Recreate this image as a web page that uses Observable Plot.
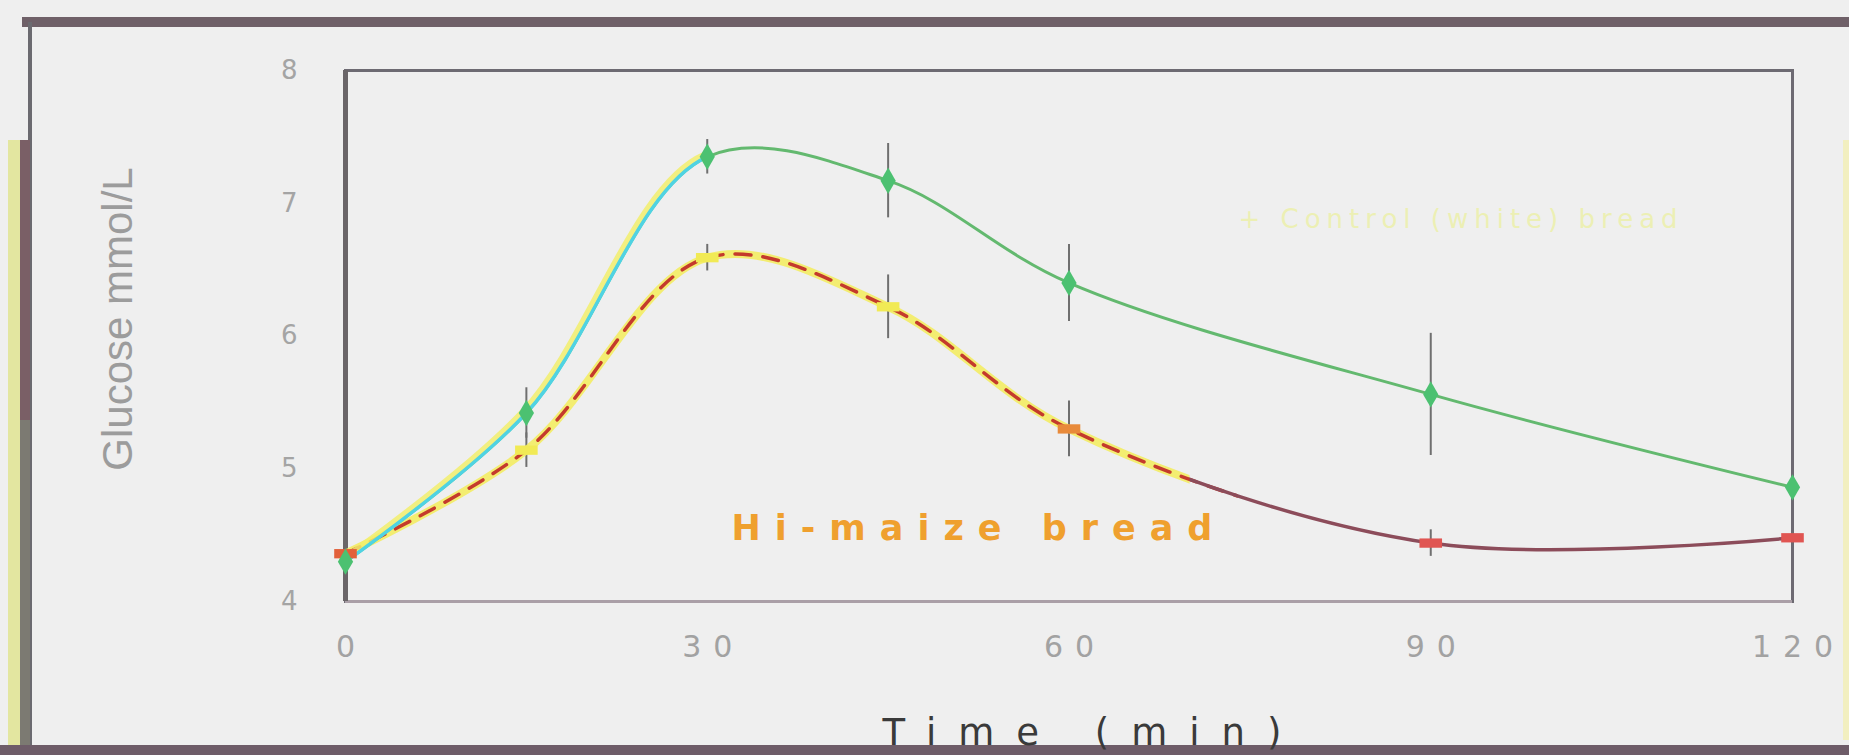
<!DOCTYPE html>
<html><head><meta charset="utf-8">
<script src="https://cdn.jsdelivr.net/npm/d3@7"></script>
<script src="https://cdn.jsdelivr.net/npm/@observablehq/plot@0.6"></script>
<style>
html,body{margin:0;padding:0;background:#efefef;overflow:hidden;}
#chart{position:relative;width:1849px;height:755px;}
</style></head><body><div id="chart"></div>
<script>
// ---- data ----
const times = [0, 15, 30, 45, 60, 90, 120];
const controlMean = [4.30, 5.42, 7.35, 7.17, 6.40, 5.56, 4.86];
const controlSE   = [0.05, 0.19, 0.13, 0.28, 0.29, 0.46, 0.00];
const hiMaizeMean = [4.36, 5.14, 6.59, 6.22, 5.30, 4.44, 4.48];
const hiMaizeSE   = [0.04, 0.13, 0.10, 0.24, 0.21, 0.10, 0.04];
const xTicks = [0, 30, 60, 90, 120];
const yTicks = [4, 5, 6, 7, 8];
const xTitle = "Time (min)";
const yTitle = "Glucose mmol/L";
const hiMaizeLabel = "Hi-maize bread";
const controlLabel = "+ Control (white) bread";

const control = times.map((t, i) => ({t, mean: controlMean[i], se: controlSE[i]}));
const hiMaize = times.map((t, i) => ({t, mean: hiMaizeMean[i], se: hiMaizeSE[i]}));

const barSymbol = {
  draw(ctx, size) {
    const s = Math.sqrt(size), w = s * 1.7, h = s * 0.7;
    ctx.moveTo(-w / 2, -h / 2); ctx.lineTo(w / 2, -h / 2);
    ctx.lineTo(w / 2, h / 2); ctx.lineTo(-w / 2, h / 2); ctx.closePath();
  }
};
const curve = "catmull-rom";

const plot = Plot.plot({
  width: 1849, height: 755,
  marginLeft: 345, marginRight: 57, marginTop: 70, marginBottom: 154,
  style: {background: "#efefef", fontFamily: "DejaVu Sans, sans-serif"},
  x: {domain: [0, 120]},
  y: {domain: [4, 8]},
  marks: [
    Plot.axisX(xTicks, {tickSize: 0, tickPadding: 34, dx: 6, fontSize: 30, color: "#a2a2a2", label: null}),
    Plot.axisY(yTicks, {tickSize: 0, tickPadding: 48, fontSize: 26, color: "#a4a4a4", label: null, tickFormat: d => String(d)}),
    Plot.frame({stroke: "#6d6a72", strokeWidth: 3}),
    Plot.ruleY([4], {stroke: "#aa9fa7", strokeWidth: 3}),
    Plot.ruleX([0], {stroke: "#6a6568", strokeWidth: 5}),
    // error bars
    Plot.ruleX(control, {x: "t", y1: d => d.mean - d.se, y2: d => d.mean + d.se, stroke: "#6f6f6f", strokeWidth: 2}),
    Plot.ruleX(hiMaize, {x: "t", y1: d => d.mean - d.se, y2: d => d.mean + d.se, stroke: "#6f6f6f", strokeWidth: 2}),
    // Hi-maize curve (0: yellow, 1: red dashed, 2: maroon)
    Plot.line(hiMaize, {x: "t", y: "mean", curve, stroke: "#f3ec5a", strokeWidth: 8, strokeOpacity: 0.85}),
    Plot.line(hiMaize, {x: "t", y: "mean", curve, stroke: "#c43a2c", strokeWidth: 3.5, strokeDasharray: "16,12"}),
    Plot.line(hiMaize, {x: "t", y: "mean", curve, stroke: "#8c4c5a", strokeWidth: 3.5}),
    // control curve (3: green, 4: yellow, 5: cyan)
    Plot.line(control, {x: "t", y: "mean", curve, stroke: "#63b96f", strokeWidth: 3}),
    Plot.line(control, {x: "t", y: "mean", curve, dx: -3, dy: -2, stroke: "#f2ef6c", strokeWidth: 6, strokeOpacity: 0.85}),
    Plot.line(control, {x: "t", y: "mean", curve, stroke: "#4fd3e3", strokeWidth: 3.5}),
    // markers
    Plot.dot(hiMaize, {x: "t", y: "mean", symbol: barSymbol, r: 7.5,
      fill: d => d.t === 0 ? "#e2603a" : d.t <= 45 ? "#f1ea55" : d.t === 60 ? "#e88a3a" : "#e05552"}),
    Plot.dot(control, {x: "t", y: "mean", symbol: "diamond", r: 8, fill: "#4cc171"}),
    // labels
    Plot.text([hiMaizeLabel], {frameAnchor: "bottom-left", textAnchor: "start", dx: 386, dy: -62,
      fontSize: 35, fontWeight: "bold", fill: "#efa02e"}),
    Plot.text([controlLabel], {frameAnchor: "top-left", textAnchor: "start", dx: 893, dy: 139,
      fontSize: 26, fill: "#ecefb4"}),
    Plot.text([xTitle], {frameAnchor: "bottom", dx: 24, dy: 143, fontSize: 37, fill: "#3a3a3a"}),
    Plot.text([yTitle], {frameAnchor: "left", textAnchor: "middle", rotate: -90, dx: -227, dy: -17, fontSize: 42, fill: "#9c9c9c",
      fontFamily: "Liberation Sans, sans-serif"})
  ]
});

document.getElementById("chart").appendChild(plot);

// ---- post styling ----
const svg = d3.select(plot);
svg.selectAll("text").each(function () {
  const t = this.textContent;
  const s = d3.select(this);
  if (t === xTitle) s.style("letter-spacing", "22px");
  else if (t === hiMaizeLabel) s.style("letter-spacing", "14px");
  else if (t === controlLabel) s.style("letter-spacing", "6px");
  else if (this.closest('[aria-label="x-axis tick label"]')) s.style("letter-spacing", "12px");
});

// colour segments of the curves, clipped at time positions via the x scale
const xs = plot.scale("x");
const defs = svg.append("defs");
function clip(id, t0, t1) {
  const x0 = xs.apply(t0), x1 = xs.apply(t1);
  defs.append("clipPath").attr("id", id).append("rect")
    .attr("x", Math.min(x0, x1)).attr("y", 0).attr("width", Math.abs(x1 - x0)).attr("height", 755);
  return `url(#${id})`;
}
const lines = svg.selectAll('g[aria-label="line"]').nodes();
d3.select(lines[0]).attr("clip-path", clip("c-hy", -5, 70));
d3.select(lines[1]).attr("clip-path", clip("c-hr", -5, 74));
d3.select(lines[2]).attr("clip-path", clip("c-hm", 70, 125));
d3.select(lines[4]).attr("clip-path", clip("c-cy", -5, 30));
d3.select(lines[5]).attr("clip-path", clip("c-cc", -5, 30));

// outer photo border decoration
const deco = svg.insert("g", ":first-child");
deco.append("rect").attr("x", 22).attr("y", 17).attr("width", 1827).attr("height", 10).attr("fill", "#6f6068");
deco.append("rect").attr("x", 28).attr("y", 22).attr("width", 4).attr("height", 733).attr("fill", "#6b6a70");
deco.append("rect").attr("x", 8).attr("y", 140).attr("width", 14).attr("height", 615).attr("fill", "#e3e6a0");
deco.append("rect").attr("x", 20).attr("y", 140).attr("width", 10).attr("height", 280).attr("fill", "#7a5f66");
deco.append("rect").attr("x", 20).attr("y", 420).attr("width", 10).attr("height", 335).attr("fill", "#7c7a72");
deco.append("rect").attr("x", 0).attr("y", 745).attr("width", 1849).attr("height", 10).attr("fill", "#6e5c68");
deco.append("rect").attr("x", 1843).attr("y", 140).attr("width", 6).attr("height", 600).attr("fill", "#f2efc0");
</script></body></html>
